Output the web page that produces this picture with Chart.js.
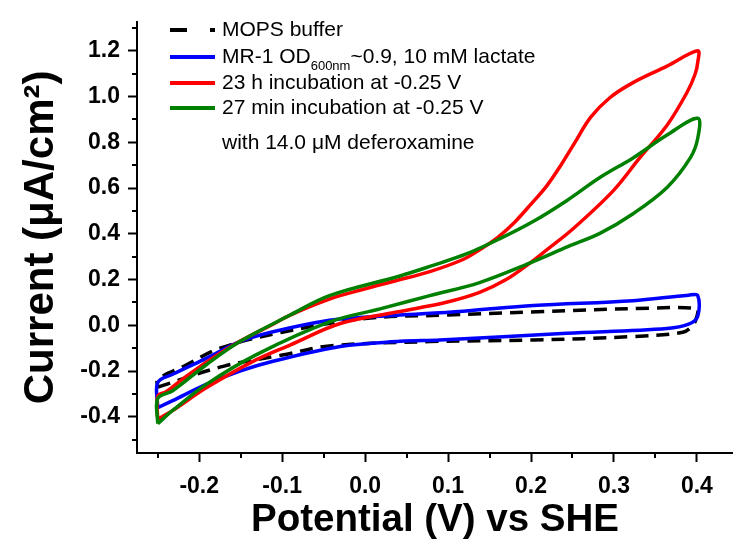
<!DOCTYPE html>
<html>
<head>
<meta charset="utf-8">
<script src="https://cdn.jsdelivr.net/npm/chart.js@4"></script>
<style>
  html, body { margin: 0; padding: 0; background: #fff; }
  #wrap { width: 733px; height: 543px; }
</style>
</head>
<body>
<div id="wrap"><canvas id="cv"></canvas></div>
<script>
// cyclic voltammograms, potential (V vs SHE) and current (uA/cm2)
const mopsV = [-0.25, -0.17, -0.1, -0.043, 0.078, 0.203, 0.323, 0.383, 0.395, 0.4, 0.4, 0.343, 0.2, 0.1, 0.0, -0.1, -0.175, -0.218, -0.25, -0.25];
const mopsI = [-0.27, -0.178, -0.13, -0.09, -0.071, -0.064, -0.049, -0.03, 0.0, 0.04, 0.072, 0.075, 0.058, 0.045, 0.03, -0.03, -0.10, -0.178, -0.236, -0.27];

const blueV = [-0.25, -0.232, -0.191, -0.151, -0.111, -0.03, 0.042, 0.09, 0.243, 0.364, 0.39, 0.401, 0.401, 0.39, 0.323, 0.203, 0.118, 0.042, -0.002, -0.043, -0.111, -0.151, -0.191, -0.232, -0.25, -0.25];
const blueI = [-0.36, -0.329, -0.257, -0.2, -0.157, -0.092, -0.07, -0.064, -0.035, -0.014, 0.005, 0.04, 0.13, 0.132, 0.108, 0.087, 0.062, 0.045, 0.035, 0.022, -0.028, -0.071, -0.143, -0.214, -0.25, -0.36];

const redV = [-0.25, -0.232, -0.191, -0.131, -0.09, -0.03, 0.038, 0.098, 0.138, 0.17, 0.199, 0.219, 0.25, 0.299, 0.331, 0.364, 0.388, 0.398, 0.401, 0.401, 0.364, 0.323, 0.295, 0.272, 0.253, 0.236, 0.219, 0.2, 0.18, 0.16, 0.14, 0.118, 0.078, 0.038, -0.002, -0.043, -0.091, -0.111, -0.151, -0.191, -0.22, -0.24, -0.25, -0.25];
const redI = [-0.41, -0.372, -0.272, -0.15, -0.085, 0.008, 0.058, 0.101, 0.144, 0.20, 0.273, 0.33, 0.42, 0.588, 0.732, 0.875, 1.018, 1.10, 1.15, 1.20, 1.133, 1.061, 0.995, 0.91, 0.80, 0.70, 0.61, 0.53, 0.45, 0.385, 0.335, 0.288, 0.235, 0.196, 0.158, 0.115, 0.044, 0.005, -0.07, -0.16, -0.235, -0.29, -0.31, -0.41];

const greenV = [-0.25, -0.232, -0.191, -0.131, -0.043, 0.018, 0.078, 0.138, 0.199, 0.245, 0.283, 0.323, 0.364, 0.392, 0.401, 0.401, 0.364, 0.323, 0.283, 0.243, 0.203, 0.162, 0.122, 0.08, 0.042, -0.043, -0.091, -0.151, -0.191, -0.232, -0.25, -0.25];
const greenI = [-0.43, -0.372, -0.257, -0.128, 0.015, 0.072, 0.13, 0.187, 0.273, 0.345, 0.402, 0.488, 0.603, 0.732, 0.818, 0.905, 0.832, 0.732, 0.646, 0.545, 0.455, 0.378, 0.312, 0.26, 0.216, 0.13, 0.044, -0.071, -0.171, -0.286, -0.32, -0.43];

const FONT = "'Liberation Sans', Arial, sans-serif";

function pts(xs, ys) {
    return xs.map((v, k) => ({x: v, y: ys[k]}));
}

// minor ticks, drawn through the scales
const minorTicks = {
    id: 'minorTicks',
    afterDraw(chart) {
        const ctx = chart.ctx;
        const xs = chart.scales.x, ys = chart.scales.y;
        ctx.save();
        ctx.strokeStyle = '#000';
        ctx.lineWidth = 2;
        ctx.beginPath();
        for (let v = -0.25; v < xs.max; v += 0.1) {
            const px = Math.round(xs.getPixelForValue(v));
            ctx.moveTo(px, xs.top);
            ctx.lineTo(px, xs.top + 5);
        }
        for (let v = -0.5; v < ys.max; v += 0.2) {
            const py = Math.round(ys.getPixelForValue(v));
            ctx.moveTo(ys.right, py);
            ctx.lineTo(ys.right - 5, py);
        }
        ctx.stroke();
        ctx.restore();
    }
};

// legend with subscript
const legendBox = {
    id: 'legendBox',
    afterDraw(chart) {
        const ctx = chart.ctx;
        const x0 = 170, x1 = 215, tx = 222;
        const rows = [30, 57, 83, 108];
        ctx.save();
        chart.data.datasets.forEach((ds, k) => {
            ctx.beginPath();
            ctx.strokeStyle = ds.borderColor;
            ctx.lineWidth = 4;
            ctx.setLineDash(k === 0 ? [17, 23] : []);
            ctx.moveTo(x0, rows[k]);
            ctx.lineTo(x1, rows[k]);
            ctx.stroke();
        });
        ctx.setLineDash([]);
        ctx.fillStyle = '#000';
        ctx.textBaseline = 'middle';
        ctx.font = '21px ' + FONT;
        ctx.fillText('MOPS buffer', tx, rows[0]);
        let s = 'MR-1 OD';
        ctx.fillText(s, tx, rows[1]);
        let w = ctx.measureText(s).width;
        ctx.font = '13px ' + FONT;
        ctx.fillText('600nm', tx + w, rows[1] + 9);
        w += ctx.measureText('600nm').width;
        ctx.font = '21px ' + FONT;
        ctx.fillText('~0.9, 10 mM lactate', tx + w, rows[1]);
        ctx.fillText('23 h incubation at -0.25 V', tx, rows[2]);
        ctx.fillText('27 min incubation at -0.25 V', tx, rows[3]);
        ctx.fillText('with 14.0 \u03bcM deferoxamine', tx, 143);
        ctx.restore();
    }
};

function fmt(v) {
    if (Math.abs(v) < 1e-9) return '0.0';
    return v.toFixed(1);
}

new Chart(document.getElementById('cv').getContext('2d'), {
    type: 'scatter',
    data: {
        datasets: [
            {label: 'MOPS buffer', data: pts(mopsV, mopsI), borderColor: '#000000', borderDash: [13, 8], order: 4},
            {label: 'MR-1', data: pts(blueV, blueI), borderColor: '#0000ff', order: 3},
            {label: '23 h', data: pts(redV, redI), borderColor: '#ff0000', order: 2},
            {label: '27 min', data: pts(greenV, greenI), borderColor: '#008000', order: 1}
        ]
    },
    options: {
        responsive: true,
        maintainAspectRatio: false,
        animation: false,
        devicePixelRatio: 1,
        layout: {padding: {top: 15, left: 0, right: 0, bottom: 0}},
        datasets: {
            scatter: {
                showLine: true,
                pointRadius: 0,
                borderWidth: 3.5,
                tension: 0.35,
                fill: false
            }
        },
        plugins: {
            legend: {display: false},
            tooltip: {enabled: false}
        },
        scales: {
            x: {
                type: 'linear',
                min: -0.275,
                max: 0.4435,
                grid: {drawOnChartArea: false, color: '#000', tickLength: 9, tickWidth: 2},
                border: {display: true, color: '#000', width: 2},
                ticks: {stepSize: 0.1, includeBounds: false, color: '#000', padding: 11,
                    font: {family: FONT, size: 23, weight: 'bold'}, callback: v => fmt(v), maxRotation: 0},
                title: {display: true, text: 'Potential (V) vs SHE', color: '#000',
                    font: {family: FONT, size: 38.5, weight: 'bold'}, padding: {top: 0, bottom: 0}},
                afterFit: s => { s.height = 90; }
            },
            y: {
                type: 'linear',
                min: -0.558,
                max: 1.327,
                grid: {drawOnChartArea: false, color: '#000', tickLength: 9, tickWidth: 2},
                border: {display: true, color: '#000', width: 2},
                ticks: {stepSize: 0.2, includeBounds: false, color: '#000', padding: 8,
                    font: {family: FONT, size: 23, weight: 'bold'}, callback: v => fmt(v)},
                title: {display: true, text: 'Current (\u03bcA/cm\u00b2)', color: '#000',
                    font: {family: FONT, size: 42, weight: 'bold'}, padding: {top: 16, bottom: 0}},
                afterFit: s => { s.width = 137; }
            }
        }
    },
    plugins: [minorTicks, legendBox]
});
</script>
</body>
</html>
